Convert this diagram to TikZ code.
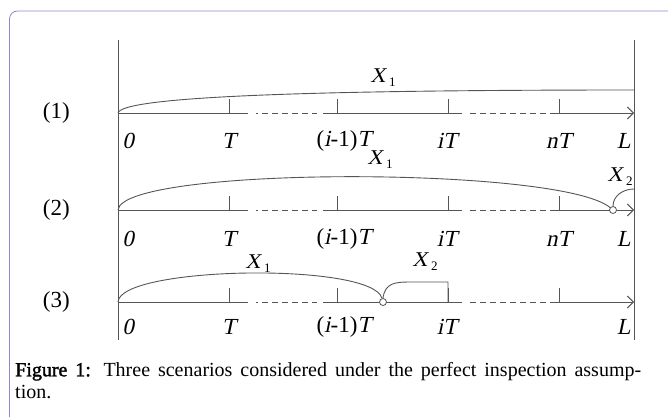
\documentclass[tikz,border=0pt]{standalone}
\usepackage{fontspec}
\setmainfont{Liberation Serif}[
  ItalicFont={Liberation Serif}, ItalicFeatures={FakeSlant=0.21},
  BoldFont={Liberation Serif}, BoldFeatures={FakeBold=1.6}]
\usetikzlibrary{arrows.meta, positioning}
\definecolor{framecol}{RGB}{140,140,205}
\definecolor{linecol}{RGB}{85,85,85}
\newcommand{\xsub}[2]{\textit{#1}\kern3.5pt\raisebox{-4pt}{\fontsize{13}{13}\selectfont #2}}

\begin{document}
\begin{tikzpicture}[
  x=1pt, y=-1pt,
  axisln/.style={draw=linecol, line width=0.9pt},
  gapln/.style={axisln, dash pattern=on 6pt off 4pt},
  arr/.style={axisln, -{Straight Barb[length=6pt, width=12pt]}},
  span/.style={draw=linecol, line width=0.9pt},
  lbl/.style={font=\fontsize{23}{23}\selectfont\itshape, inner sep=0pt},
  num/.style={font=\fontsize{23}{23}\selectfont, inner sep=0pt},
  xlbl/.style={font=\fontsize{21}{21}\selectfont, inner sep=0pt},
  captxt/.style={font=\fontsize{20}{22}\selectfont, inner sep=0pt,
                 text width=626pt, align=justify, anchor=north west},
  dot/.style={circle, draw=linecol, fill=white, line width=0.8pt,
              minimum size=7pt, inner sep=0pt}
]
\useasboundingbox (0,0) rectangle (668,417);
\draw[framecol, line width=0.8pt, rounded corners=8pt] (9.5,417) |- (668,11);

% the two bounds 0 and L
\coordinate (topl) at (118,40);  \coordinate (botl) at (118,340);
\coordinate (topr) at (634,40);  \coordinate (botr) at (634,340);
\draw[axisln] (topl) -- (botl);
\draw[axisln] (topr) -- (botr);

% time axes with inspection ticks
\foreach \k/\y in {1/113, 2/210, 3/302}{
  \coordinate (a\k) at (118,\y);
  \coordinate (e\k) at (634,\y);
  \draw[axisln] (a\k) -- (248,\y);
  \draw[gapln, dash phase=4pt] (256,\y) -- (317,\y);
  \draw[axisln] (323,\y) -- (462,\y);
  \draw[gapln] (470,\y) -- (550,\y);
  \draw[arr] (550,\y) -- (e\k);
  \foreach \t in {229, 337, 448, 559}
    \draw[axisln] (\t,\y) -- (\t,\y-14);
}

% scenario (1)
\node[num, left=48pt of a1] (s1) {(1)};
\coordinate (r1) at (634,90);
\draw[span] (a1) .. controls (122,97) and (300,90) .. (r1);
\node[xlbl] (x11) at (383,78) {\xsub{X}{1}};
\node[lbl] (z1)  at (128,141) {0};
\node[lbl] (t1)  at (229,141) {T};
\node[lbl] (im1) at (344,141) {\upshape(\textit{i}-1)\textit{T}};
\node[lbl] (i1)  at (447,141) {iT};
\node[lbl] (n1)  at (559,141) {nT};
\node[lbl] (l1)  at (624,141) {L};

% scenario (2)
\node[num, left=48pt of a2] (s2) {(2)};
\node[dot] (c2) at (613,210) {};
\coordinate (r2) at (634,189);
\draw[span] (a2) .. controls (122,166) and (560,166) .. (c2);
\draw[span] (c2.north) to[out=90, in=180] (r2);
\node[xlbl] (x21) at (380,160) {\xsub{X}{1}};
\node[xlbl] (x22) at (620,177) {\xsub{X}{2}};
\node[lbl] (z2)  at (128,239) {0};
\node[lbl] (t2)  at (229,239) {T};
\node[lbl] (im2) at (344,239) {\upshape(\textit{i}-1)\textit{T}};
\node[lbl] (i2)  at (447,239) {iT};
\node[lbl] (n2)  at (559,239) {nT};
\node[lbl] (l2)  at (624,239) {L};

% scenario (3)
\node[num, left=48pt of a3] (s3) {(3)};
\node[dot] (c3) at (383,302) {};
\coordinate (q3) at (448,282);
\coordinate (p3) at (448,302);
\draw[span] (a3) .. controls (120,266) and (372,262) .. (c3);
\draw[span] (c3.north) .. controls (385,283) and (395,282) .. (410,282) -- (q3) -- (p3);
\node[xlbl] (x31) at (258,264) {\xsub{X}{1}};
\node[xlbl] (x32) at (425,262) {\xsub{X}{2}};
\node[lbl] (z3)  at (128,327) {0};
\node[lbl] (t3)  at (229,327) {T};
\node[lbl] (im3) at (344,327) {\upshape(\textit{i}-1)\textit{T}};
\node[lbl] (i3)  at (447,327) {iT};
\node[lbl] (l3)  at (624,327) {L};

% caption
\node[captxt] (cap) at (15,362) {\textbf{Figure 1:} Three scenarios considered under the perfect inspection assump-\linebreak tion.};
\end{tikzpicture}
\end{document}
